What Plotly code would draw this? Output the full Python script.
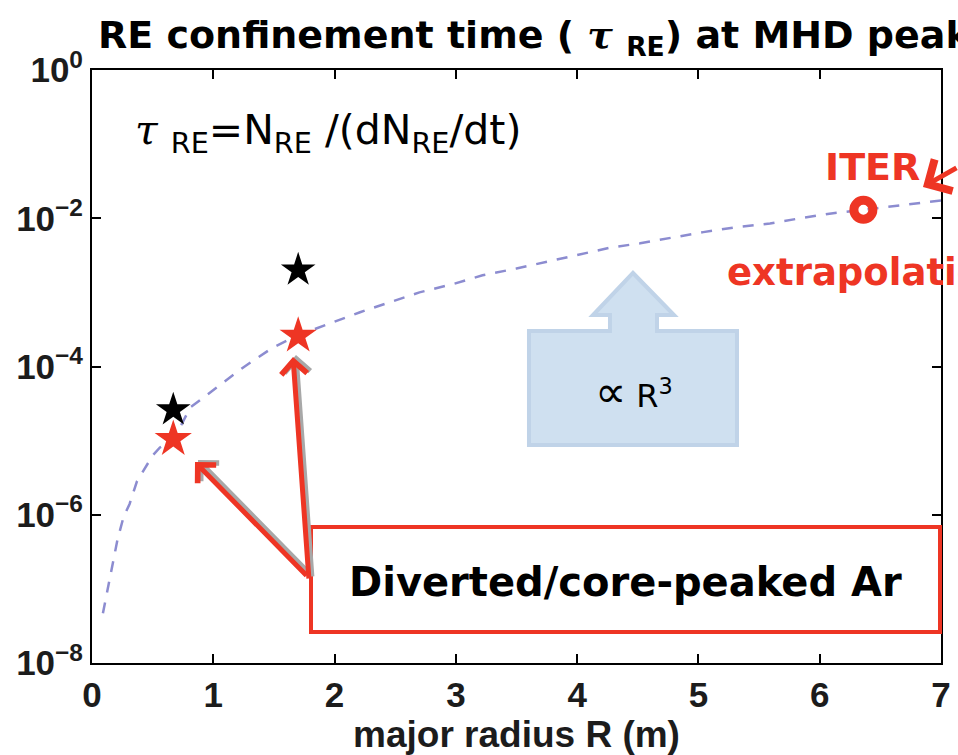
import plotly.graph_objects as go

# Fitted tau_RE ~ R^3 curve (major radius in m, confinement time in s)
fit_R = [0.09, 0.165, 0.21, 0.26, 0.31, 0.37, 0.50, 0.56, 0.67, 0.81, 1.05, 1.25,
         1.49, 1.69, 1.96, 2.21, 2.46, 2.70, 2.98, 3.22, 3.50, 3.75, 4.02, 4.27,
         4.52, 4.79, 5.04, 5.32, 5.59, 5.84, 6.11, 6.36, 6.66, 6.91, 7.0]
fit_tau = [4.7e-8, 1.9e-7, 4.6e-7, 9.3e-7, 1.4e-6, 2.8e-6, 6.3e-6, 8.1e-6, 1.0e-5,
           2.8e-5, 5.6e-5, 9.8e-5, 1.8e-4, 2.6e-4, 3.8e-4, 5.4e-4, 7.4e-4, 1.0e-3,
           1.3e-3, 1.7e-3, 2.1e-3, 2.6e-3, 3.2e-3, 4.0e-3, 4.6e-3, 5.5e-3, 6.5e-3,
           7.6e-3, 8.5e-3, 1.0e-2, 1.17e-2, 1.3e-2, 1.5e-2, 1.66e-2, 1.74e-2]

# Diverted / core-peaked Ar cases
red_R = [0.67, 1.70]
red_tau = [1.05e-5, 2.6e-4]
black_R = [0.67, 1.70]
black_tau = [2.6e-5, 2.0e-3]

# ITER extrapolation
iter_R = [6.36]
iter_tau = [1.3e-2]

x_ticks = [0, 1, 2, 3, 4, 5, 6, 7]
y_ticks = [1e-8, 1e-6, 1e-4, 1e-2, 1]
y_ticktext = ["10<sup>−8</sup>", "10<sup>−6</sup>", "10<sup>−4</sup>", "10<sup>−2</sup>", "10<sup>0</sup>"]

RED = "#EE3524"
W, H = 958, 755
L, R_, T, B = 92, 941, 70, 663


def px(x):
    return (x - L) / (R_ - L)


def py(y):
    return (B - y) / (B - T)


fig = go.Figure()

fig.add_trace(go.Scatter(
    x=fit_R, y=fit_tau, mode="lines",
    line=dict(color="#8C8CD0", width=2.5, dash="11px,10px"),
    hoverinfo="skip", showlegend=False))

fig.add_trace(go.Scatter(
    x=black_R, y=black_tau, mode="markers",
    marker=dict(symbol="star", size=26, color="black", line=dict(width=0)),
    showlegend=False))

fig.add_trace(go.Scatter(
    x=red_R, y=red_tau, mode="markers",
    marker=dict(symbol="star", size=28, color=RED, line=dict(width=0)),
    showlegend=False))

fig.add_trace(go.Scatter(
    x=iter_R, y=iter_tau, mode="markers",
    marker=dict(symbol="circle-open", size=19, color=RED, line=dict(width=9, color=RED)),
    showlegend=False))

tick_font = dict(family="Liberation Sans Narrow, Liberation Sans, Arial", size=35,
                 color="#1c1c1c", weight="bold")

axis_common = dict(showline=True, linewidth=2, linecolor="black", mirror="ticks",
                   ticks="inside", ticklen=9, tickwidth=2, tickcolor="black",
                   showgrid=False, zeroline=False, tickfont=tick_font, automargin=False)

fig.update_xaxes(range=[0, 7], tickvals=x_ticks, **axis_common,
                 title=dict(text="major radius R (m)", standoff=4,
                            font=dict(family="Liberation Sans Narrow, Liberation Sans, Arial",
                                      size=37, color="#1c1c1c", weight="bold")))
fig.update_yaxes(type="log", range=[-8, 0], tickvals=y_ticks, ticktext=y_ticktext,
                 **axis_common)

shapes = []
# up-arrow callout for the R^3 scaling
arrow_pts = [(529, 331), (610, 331), (610, 315), (593, 315), (633, 273), (674, 315),
             (657, 315), (657, 331), (737, 331), (737, 445), (529, 445)]
path = "M " + " L ".join(f"{px(a):.4f},{py(b):.4f}" for a, b in arrow_pts) + " Z"
shapes.append(dict(type="path", xref="paper", yref="paper", path=path,
                   fillcolor="#CFE0F0", line=dict(color="#C0D3E8", width=4), layer="above"))
# label box
shapes.append(dict(type="rect", xref="paper", yref="paper",
                   x0=px(311), x1=px(940), y0=py(632), y1=py(527),
                   fillcolor="white", line=dict(color=RED, width=4), layer="above"))
fig.update_layout(shapes=shapes)

SANS = "DejaVu Sans, sans-serif"
TAU = "<span style='font-family:DejaVu Serif'><i>τ</i></span>"
ann = []
ann.append(dict(xref="paper", yref="paper", x=px(96), y=py(37), xanchor="left", yanchor="middle",
                text=f"RE confinement time ( {TAU} <sub>RE</sub>) at MHD peak",
                showarrow=False, font=dict(family=SANS, size=38, color="black", weight="bold")))
ann.append(dict(xref="paper", yref="paper", x=px(133), y=py(133), xanchor="left", yanchor="middle",
                text=f"{TAU} <sub>RE</sub>=N<sub>RE</sub> /(dN<sub>RE</sub>/dt)",
                showarrow=False, font=dict(family=SANS, size=41, color="black")))
ann.append(dict(xref="paper", yref="paper", x=px(634), y=py(390), xanchor="center", yanchor="middle",
                text="<span style='font-family:Noto Sans;font-size:44px'>∝</span> R<sup>3</sup>",
                showarrow=False, font=dict(family=SANS, size=32, color="black")))
ann.append(dict(xref="paper", yref="paper", x=px(625), y=py(582), xanchor="center", yanchor="middle",
                text="Diverted/core-peaked Ar", showarrow=False,
                font=dict(family=SANS, size=40, color="black", weight="bold")))
ann.append(dict(xref="paper", yref="paper", x=px(872), y=py(167), xanchor="center", yanchor="middle",
                text="ITER", showarrow=False,
                font=dict(family=SANS, size=38, color=RED, weight="bold")))
ann.append(dict(xref="paper", yref="paper", x=px(725), y=py(272), xanchor="left", yanchor="middle",
                text="extrapolation", showarrow=False,
                font=dict(family=SANS, size=37, color=RED, weight="bold")))

# pointer arrows (grey drop shadow first, then red)
pointers = [((195, 462), (113, 115), 1.0), ((293, 357), (16, 223), 1.0),
            ((923, 187), (90, -20), 1.4)]
for (tx, ty), (dx, dy), hs in pointers:
    if tx < 900:
        ann.append(dict(xref="paper", yref="paper", x=px(tx + 3), y=py(ty - 2), ax=dx, ay=dy,
                        text="", showarrow=True, arrowhead=4, arrowsize=hs, arrowwidth=5,
                        arrowcolor="#A8A8A8"))
    ann.append(dict(xref="paper", yref="paper", x=px(tx), y=py(ty), ax=dx, ay=dy,
                    text="", showarrow=True, arrowhead=4, arrowsize=hs, arrowwidth=5,
                    arrowcolor=RED))
fig.update_layout(annotations=ann)

fig.update_layout(width=W, height=H, autosize=False,
                  margin=dict(l=L, r=W - R_, t=T, b=H - B),
                  paper_bgcolor="white", plot_bgcolor="white")

fig.write_html("out.html")
